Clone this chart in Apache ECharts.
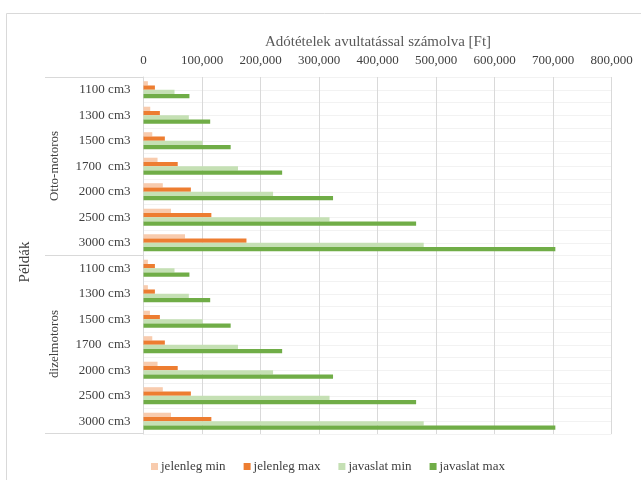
<!DOCTYPE html>
<html>
<head>
<meta charset="utf-8">
<script src="https://cdn.jsdelivr.net/npm/echarts@6/dist/echarts.min.js"></script>
<style>
  html, body { margin: 0; padding: 0; background: #fff; }
  #chart { width: 641px; height: 480px; }
</style>
</head>
<body>
<div id="chart"></div>
<script>
let categories = [
    '1100 cm3', '1300 cm3', '1500 cm3', '1700  cm3', '2000 cm3', '2500 cm3', '3000 cm3',
    '1100 cm3', '1300 cm3', '1500 cm3', '1700  cm3', '2000 cm3', '2500 cm3', '3000 cm3'
]
let groups = ['Otto-motoros', 'dizelmotoros']
let seriesNames = ['jelenleg min', 'jelenleg max', 'javaslat min', 'javaslat max']
let jelenlegMin = [7500, 11500, 15000, 24000, 33000, 47000, 71000, 7500, 7500, 11000, 15000, 24000, 33000, 47000]
let jelenlegMax = [19500, 28000, 36500, 58500, 81000, 116000, 176000, 19500, 19500, 28000, 36500, 58500, 81000, 116000]
let javaslatMin = [53000, 77500, 101000, 161500, 221500, 318000, 479000, 53000, 77500, 101000, 161500, 221500, 318000, 479000]
let javaslatMax = [78500, 114000, 149000, 237000, 324000, 466000, 704000, 78500, 114000, 149000, 237000, 324000, 466000, 704000]
let colors = ['#f8cbad', '#ed7d31', '#c5e0b4', '#70ad47']

const serif = '"Liberation Serif", "DejaVu Serif", serif'

function makeSeries(name, data, color) {
    return {
        name: name,
        type: 'bar',
        data: data,
        color: color,
        barGap: '0%',
        barCategoryGap: '33%',
        itemStyle: { color: color }
    }
}

let dom = document.getElementById('chart')
let myChart = echarts.init(dom, null, { renderer: 'canvas' })

option = {
    animation: false,
    grid: { left: 143.5, right: 29.5, top: 77, bottom: 46 },
    legend: {
        left: 146,
        top: 455,
        itemWidth: 7,
        itemHeight: 7,
        itemGap: 18,
        icon: 'rect',
        textStyle: { fontFamily: serif, fontSize: 13, color: '#404040', padding: [0, 0, 0, -2] },
        data: seriesNames
    },
    xAxis: {
        type: 'value',
        position: 'top',
        min: 0,
        max: 800000,
        interval: 100000,
        axisLine: { show: false },
        axisTick: { show: false },
        axisLabel: {
            margin: 10,
            fontFamily: serif,
            fontSize: 13,
            color: '#404040',
            formatter: v => v.toLocaleString('en-US')
        },
        splitLine: { lineStyle: { color: '#d9d9d9', width: 1 } }
    },
    yAxis: [
        {
            type: 'category',
            data: categories,
            inverse: true,
            axisLine: { lineStyle: { color: '#d9d9d9' } },
            axisTick: { show: false },
            axisLabel: { margin: 13, fontFamily: serif, fontSize: 13, color: '#404040' },
            splitLine: { show: false }
        },
        {
            // faint half-row lines
            type: 'value',
            min: 0,
            max: 28,
            interval: 1,
            position: 'left',
            axisLine: { show: false },
            axisTick: { show: false },
            axisLabel: { show: false },
            splitLine: { lineStyle: { color: '#f2f2f2', width: 1 } }
        }
    ],
    graphic: [
        {
            type: 'rect',
            shape: { x: 6.5, y: 13.5, width: 700, height: 500 },
            style: { fill: 'none', stroke: '#d9d9d9', lineWidth: 1 },
            z: -10
        },
        {
            type: 'text',
            x: 378, y: 42,
            style: {
                text: 'Adótételek avultatással számolva [Ft]',
                font: '15px ' + serif,
                fill: '#595959',
                align: 'center',
                verticalAlign: 'middle'
            }
        },
        { type: 'line', shape: { x1: 45, y1: 77.5, x2: 143.5, y2: 77.5 }, style: { stroke: '#d9d9d9', lineWidth: 1 } },
        { type: 'line', shape: { x1: 45, y1: 255.5, x2: 143.5, y2: 255.5 }, style: { stroke: '#d9d9d9', lineWidth: 1 } },
        { type: 'line', shape: { x1: 45, y1: 433.5, x2: 143.5, y2: 433.5 }, style: { stroke: '#d9d9d9', lineWidth: 1 } },
        {
            type: 'text', x: 55, y: 166, rotation: Math.PI / 2,
            style: { text: groups[0], font: '13px ' + serif, fill: '#404040', align: 'center', verticalAlign: 'middle' }
        },
        {
            type: 'text', x: 55, y: 344, rotation: Math.PI / 2,
            style: { text: groups[1], font: '13px ' + serif, fill: '#404040', align: 'center', verticalAlign: 'middle' }
        },
        {
            type: 'text', x: 25, y: 262, rotation: Math.PI / 2,
            style: { text: 'Példák', font: '15px ' + serif, fill: '#404040', align: 'center', verticalAlign: 'middle' }
        }
    ],
    series: [
        makeSeries(seriesNames[0], jelenlegMin, colors[0]),
        makeSeries(seriesNames[1], jelenlegMax, colors[1]),
        makeSeries(seriesNames[2], javaslatMin, colors[2]),
        makeSeries(seriesNames[3], javaslatMax, colors[3])
    ]
}

myChart.setOption(option)
</script>
</body>
</html>
